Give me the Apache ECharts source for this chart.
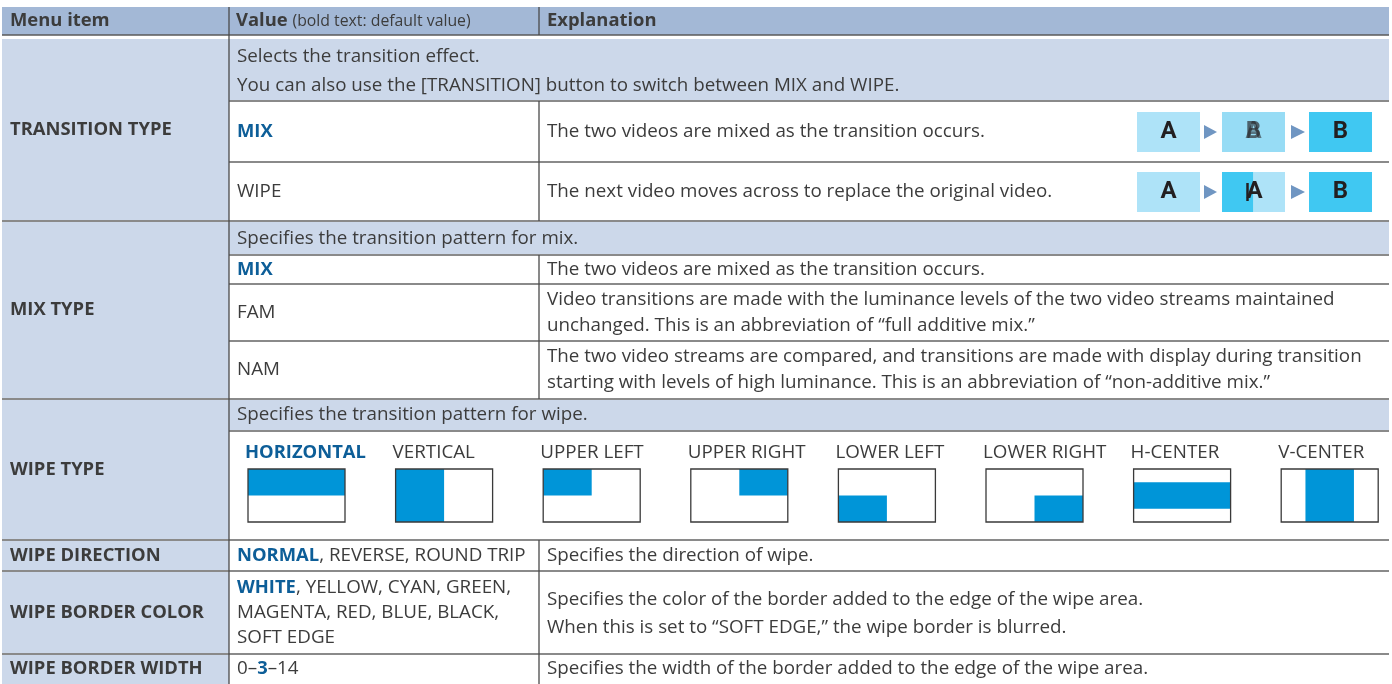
<!DOCTYPE html>
<html><head><meta charset="utf-8">
<script src="https://cdn.jsdelivr.net/npm/echarts@6/dist/echarts.min.js"></script>
<style>html,body{margin:0;padding:0;background:#fff}#c{width:1392px;height:684px}</style>
</head><body><div id="c"></div>
<script>
// ---------------- data ----------------
const headerLabels = ['Menu item', 'Value', 'Explanation'];
const headerNote = '(bold text: default value)';
const menuItems = ['TRANSITION TYPE', 'MIX TYPE', 'WIPE TYPE', 'WIPE DIRECTION', 'WIPE BORDER COLOR', 'WIPE BORDER WIDTH'];
const transitionIntro = ['Selects the transition effect.', 'You can also use the [TRANSITION] button to switch between MIX and WIPE.'];
const transitionValues = ['MIX', 'WIPE'];
const transitionExplanations = ['The two videos are mixed as the transition occurs.', 'The next video moves across to replace the original video.'];
const mixIntro = ['Specifies the transition pattern for mix.'];
const mixValues = ['MIX', 'FAM', 'NAM'];
const mixExplanations = [
  ['The two videos are mixed as the transition occurs.'],
  ['Video transitions are made with the luminance levels of the two video streams maintained', 'unchanged. This is an abbreviation of \u201cfull additive mix.\u201d'],
  ['The two video streams are compared, and transitions are made with display during transition', 'starting with levels of high luminance. This is an abbreviation of \u201cnon-additive mix.\u201d']
];
const wipeIntro = ['Specifies the transition pattern for wipe.'];
const wipePatterns = ['HORIZONTAL', 'VERTICAL', 'UPPER LEFT', 'UPPER RIGHT', 'LOWER LEFT', 'LOWER RIGHT', 'H-CENTER', 'V-CENTER'];
// filled part of each pattern thumbnail: [x0, y0, x1, y1] as fractions of the thumbnail
const wipeFills = [[0,0,1,0.5],[0,0,0.5,1],[0,0,0.5,0.5],[0.5,0,1,0.5],[0,0.5,0.5,1],[0.5,0.5,1,1],[0,0.25,1,0.75],[0.25,0,0.75,1]];
const directionValues = ['NORMAL', 'REVERSE', 'ROUND TRIP'];
const directionExplanation = ['Specifies the direction of wipe.'];
const borderColorValues = ['WHITE', 'YELLOW', 'CYAN', 'GREEN', 'MAGENTA', 'RED', 'BLUE', 'BLACK', 'SOFT EDGE'];
const borderColorExplanation = ['Specifies the color of the border added to the edge of the wipe area.', 'When this is set to \u201cSOFT EDGE,\u201d the wipe border is blurred.'];
const borderWidthRange = [0, 3, 14]; // min, default, max
const borderWidthExplanation = ['Specifies the width of the border added to the edge of the wipe area.'];
const transitionStages = [['A', 'AB', 'B'], ['A', 'BA', 'B']]; // mix, wipe illustration

// ---------------- layout & style ----------------
const FF = '"Open Sans", "Noto Sans", sans-serif';
const FS = 18.8;
const BFS = 18.4;
const BW = 'bold';
const C = { head: '#a3b8d6', band: '#ccd8ea', text: '#3c3c3c', blue: '#0d5e98', hline: '#8a8a8a', vline: '#4a4a4a', wipe: '#0095d8' };
const X0 = 2, X1 = 229, X2 = 539, X3 = 1389, TX = 8;
const Y = { head: [7, 35], tr: [39, 101, 162, 221], mix: [221, 255, 284, 341, 399], wipe: [399, 431, 540], dir: [540, 571], col: [571, 654], wid: [654, 692] };

const ELS = [];
const rect = (x0, y0, x1, y1, fill, stroke, lw) => ELS.push({ t: 'rect', x0, y0, x1, y1, fill, stroke, lw });
const line = (x0, y0, x1, y1, stroke, lw) => ELS.push({ t: 'line', x0, y0, x1, y1, stroke, lw });
const text = (x, y, s, o) => ELS.push(Object.assign({ t: 'text', x, y, text: s, fill: C.text, font: FS + 'px ' + FF, lh: 26 }, o || {}));
const mid = (a, b) => (a + b) / 2;
const rich = {
  d: { fill: C.blue, fontWeight: BW, fontFamily: FF, fontSize: BFS },
  b: { fill: C.text, fontWeight: BW, fontFamily: FF, fontSize: BFS },
  s: { fill: C.text, fontFamily: FF, fontSize: 15.8 }
};

// backgrounds
rect(X0, Y.head[0], X3, Y.head[1], C.head);
rect(X0, Y.tr[0], X1, 692, C.band);
rect(X1, Y.tr[0], X3, Y.tr[1], C.band);
rect(X1, Y.mix[0], X3, Y.mix[1], C.band);
rect(X1, Y.wipe[0], X3, Y.wipe[1], C.band);

// header
text(X0 + TX, mid(...Y.head), '{b|' + headerLabels[0] + '}', { rich });
text(X1 + TX - 1, mid(...Y.head), '{b|' + headerLabels[1] + '} {s|' + headerNote + '}', { rich });
text(X2 + TX, mid(...Y.head), '{b|' + headerLabels[2] + '}', { rich });

// menu item labels
const sections = [Y.tr, Y.mix, Y.wipe, Y.dir, Y.col, Y.wid];
menuItems.forEach((m, i) => {
  const s = sections[i];
  const yc = i === 5 ? 669 : mid(s[0], s[s.length - 1]);
  text(X0 + TX, yc, '{b|' + m + '}', { rich });
});

// TRANSITION TYPE
text(X1 + TX, mid(Y.tr[0], Y.tr[1]) + 1, transitionIntro.join('\n'), { lh: 29 });
transitionValues.forEach((v, i) => {
  const yc = mid(Y.tr[i + 1], Y.tr[i + 2]);
  text(X1 + TX, yc, i === 0 ? '{d|' + v + '}' : v, { rich });
  text(X2 + TX, yc, transitionExplanations[i]);
});
// illustrations
const boxX = [[1137, 1200], [1222, 1285], [1309, 1372]];
const arrowX = [[1204, 1217], [1291, 1305]];
const light = '#aee3f8', midc = '#97dcf5', full = '#40c8f2', arrowC = '#7096c2';
const LF = 'bold 24px "Roboto", "Open Sans", sans-serif';
transitionStages.forEach((st, r) => {
  const yc = mid(Y.tr[r + 1], Y.tr[r + 2]) + 0.5;
  const y0 = yc - 20, y1 = yc + 20;
  rect(boxX[0][0], y0, boxX[0][1], y1, light);
  rect(boxX[2][0], y0, boxX[2][1], y1, full);
  if (r === 0) {
    rect(boxX[1][0], y0, boxX[1][1], y1, midc);
  } else {
    const split = mid(boxX[1][0], boxX[1][1]);
    rect(boxX[1][0], y0, split, y1, full);
    rect(split, y0, boxX[1][1], y1, light);
  }
  arrowX.forEach(a => ELS.push({ t: 'poly', pts: [[a[0], yc - 7], [a[1], yc], [a[0], yc + 7]], fill: arrowC }));
  text(mid(...boxX[0]), yc, st[0], { align: 'center', font: LF, fill: '#231f20' });
  text(mid(...boxX[2]), yc, st[2], { align: 'center', font: LF, fill: '#231f20' });
  if (r === 0) {
    text(mid(...boxX[1]), yc, st[1][0], { align: 'center', font: LF, fill: '#231f20', op: 0.55 });
    text(mid(...boxX[1]), yc, st[1][1], { align: 'center', font: LF, fill: '#231f20', op: 0.65 });
  } else {
    text(mid(...boxX[1]) + 1, yc, st[1][1], { align: 'center', font: LF, fill: '#231f20' });
    line(mid(...boxX[1]) - 6, yc - 9, mid(...boxX[1]) - 6, yc + 9, '#231f20', 2.5);
  }
});

// MIX TYPE
text(X1 + TX, mid(Y.mix[0], Y.mix[1]) + 1, mixIntro.join('\n'));
mixValues.forEach((v, i) => {
  const yc = mid(Y.mix[i + 1], Y.mix[i + 2]);
  text(X1 + TX, yc, i === 0 ? '{d|' + v + '}' : v, { rich });
  text(X2 + TX, yc, mixExplanations[i].join('\n'), { lh: 26 });
});

// WIPE TYPE
text(X1 + TX, mid(Y.wipe[0], Y.wipe[1]), wipeIntro.join('\n'));
const thumbW = 97, thumbY0 = 469, thumbY1 = 522, thumbStep = 147.6, thumbX = 248;
wipePatterns.forEach((p, i) => {
  const bx = thumbX + i * thumbStep;
  text(bx - 3, 453, i === 0 ? '{d|' + p + '}' : p, { rich });
  rect(bx, thumbY0, bx + thumbW, thumbY1, '#ffffff');
  const f = wipeFills[i];
  rect(bx + f[0] * thumbW, thumbY0 + f[1] * (thumbY1 - thumbY0), bx + f[2] * thumbW, thumbY0 + f[3] * (thumbY1 - thumbY0), C.wipe);
  rect(bx, thumbY0, bx + thumbW, thumbY1, null, '#3a3a3a', 1.3);
});

// WIPE DIRECTION
text(X1 + TX, mid(...Y.dir), directionValues.map((v, i) => i === 0 ? '{d|' + v + '}' : v).join(', '), { rich });
text(X2 + TX, mid(...Y.dir), directionExplanation.join('\n'));

// WIPE BORDER COLOR
const cv = borderColorValues.map((v, i) => i === 0 ? '{d|' + v + '}' : v);
const colorLines = [cv.slice(0, 4).join(', ') + ',', cv.slice(4, 8).join(', ') + ',', cv.slice(8).join(', ')];
const richLH = { d: Object.assign({ lineHeight: 25 }, rich.d) };
text(X1 + TX, mid(...Y.col), colorLines.join('\n'), { rich: richLH, lh: 25 });
text(X2 + TX, mid(...Y.col) + 1, borderColorExplanation.join('\n'), { lh: 28 });

// WIPE BORDER WIDTH
text(X1 + TX, 669, borderWidthRange[0] + '\u2013{d|' + borderWidthRange[1] + '}\u2013' + borderWidthRange[2], { rich });
text(X2 + TX, 669, borderWidthExplanation.join('\n'));

// grid lines
line(X0, Y.head[1], X3, Y.head[1], '#5a5a5a', 1.6);
[Y.tr[3], Y.mix[4], Y.wipe[2], Y.dir[1], Y.col[1]].forEach(y => line(X0, y, X3, y, C.hline, 2));
[Y.tr[1], Y.tr[2], Y.mix[1], Y.mix[2], Y.mix[3], Y.wipe[1]].forEach(y => line(X1, y, X3, y, C.hline, 2));
line(X1, Y.head[0], X1, 692, C.vline, 1.3);
[[Y.head[0], Y.head[1]], [Y.tr[1], Y.tr[3]], [Y.mix[1], Y.mix[4]], [Y.dir[0], 692]].forEach(s => line(X2, s[0], X2, s[1], C.vline, 1.3));

// ---------------- chart ----------------
function renderItem(params, api) {
  const e = ELS[params.dataIndex];
  const P = (x, y) => api.coord([x, y]);
  if (e.t === 'rect') {
    const a = P(e.x0, e.y0), b = P(e.x1, e.y1);
    return { type: 'rect', shape: { x: a[0], y: a[1], width: b[0] - a[0], height: b[1] - a[1] },
      style: { fill: e.fill || 'none', stroke: e.stroke || 'none', lineWidth: e.lw || 0 } };
  }
  if (e.t === 'line') {
    const a = P(e.x0, e.y0), b = P(e.x1, e.y1);
    return { type: 'line', shape: { x1: a[0], y1: a[1], x2: b[0], y2: b[1] }, style: { stroke: e.stroke, lineWidth: e.lw } };
  }
  if (e.t === 'poly') {
    return { type: 'polygon', shape: { points: e.pts.map(p => P(p[0], p[1])) }, style: { fill: e.fill } };
  }
  const a = P(e.x, e.y);
  return { type: 'text', x: a[0], y: a[1], style: {
    text: e.text, fill: e.fill, font: e.font, align: e.align || 'left', verticalAlign: 'middle',
    lineHeight: e.lh, rich: e.rich, opacity: e.op == null ? 1 : e.op } };
}

const chart = echarts.init(document.getElementById('c'), null, { renderer: 'canvas' });
chart.setOption({
  animation: false,
  grid: { left: 0, right: 0, top: 0, bottom: 0 },
  xAxis: { type: 'value', min: 0, max: 1392, show: false },
  yAxis: { type: 'value', min: 0, max: 684, inverse: true, show: false },
  series: [{ type: 'custom', coordinateSystem: 'cartesian2d', silent: true, clip: false,
    renderItem, data: ELS.map(() => [0, 0]) }]
});
</script></body></html>
